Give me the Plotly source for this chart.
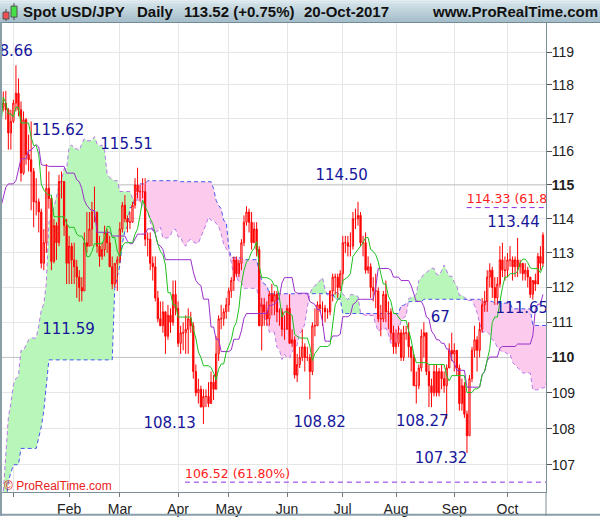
import numpy as np
import pandas as pd
import plotly.graph_objects as go

# ---------------- data ----------------
# warm-up sessions 2016-09-05 .. 2016-12-23 (highs / lows only, used for the Ichimoku)
warmup_high = [104.0, 103.9, 102.1, 102.3, 103.0, 102.5, 102.8, 102.7, 102.4, 102.3,
               102.0, 102.0, 102.8, 101.2, 101.1, 101.0, 100.8, 101.0, 101.4, 101.6,
               101.9, 102.9, 103.6, 103.9, 104.0, 104.0, 104.0, 104.6, 104.1, 104.4,
               104.2, 104.0, 103.9, 104.1, 104.0, 104.2, 104.5, 104.5, 105.1, 105.5, 105.0,
               105.0, 104.0, 103.4, 103.2, 104.5, 105.5, 105.9, 106.9, 106.9, 108.5,
               109.3, 109.5, 110.3, 111.0, 111.3, 111.4, 113.0, 113.5, 113.9, 113.3, 112.9, 114.8,
               114.8, 114.3, 114.5, 114.5, 114.3, 114.5, 115.4, 116.0, 115.6, 117.2,
               118.66, 118.3, 117.8, 118.2, 118.0, 117.8, 117.5]
warmup_low = [103.2, 101.5, 101.2, 101.2, 101.9, 101.8, 101.9, 101.9, 101.9, 101.7,
              101.7, 101.4, 100.8, 100.1, 100.5, 100.1, 100.1, 100.2, 100.5, 100.1,
              101.0, 101.6, 102.7, 103.2, 102.8, 102.8, 103.4, 103.7, 103.2, 103.6,
              103.6, 103.6, 103.0, 103.4, 103.6, 103.8, 104.0, 104.0, 104.3, 104.6, 104.6,
              104.0, 102.9, 102.6, 102.5, 103.4, 104.5, 101.2, 105.3, 106.0, 106.6,
              107.9, 108.6, 108.9, 110.2, 110.0, 110.6, 111.2, 112.6, 112.7, 111.4, 111.6, 112.2,
              113.6, 113.5, 112.9, 113.8, 113.4, 113.6, 114.0, 114.4, 114.8, 114.6,
              117.1, 117.4, 116.6, 117.1, 117.1, 117.3, 117.1]

# displayed sessions 2016-12-26 .. 2017-10-20
open_ = [117.25, 117.35, 117.45, 117.25, 116.55,
         116.90, 117.45, 117.75, 117.25, 115.35, 116.95, 115.90, 115.75, 115.40, 114.50, 114.50,
         114.20, 112.70, 113.30, 114.90, 114.60, 112.75, 113.80, 113.30, 115.10, 115.10, 113.80,
         112.70, 113.20, 112.80, 112.60, 112.30, 112.00, 111.90, 113.30, 113.20, 113.70, 114.20,
         114.20, 113.20, 112.90, 113.10, 113.60, 113.30, 112.60, 112.10, 112.70,
         112.80, 113.70, 114.40, 114.00, 113.90, 113.90, 114.40, 115.00, 114.80, 114.80, 114.80,
         113.40, 113.40, 112.70, 112.60, 111.70, 111.10, 110.90, 111.30, 110.60, 111.20, 111.00, 111.80,
         111.40, 110.40, 110.70, 110.70, 110.80, 111.10, 110.90, 109.60, 109.00, 109.10,
         108.60, 108.90, 108.90, 108.70, 109.30, 109.10, 110.10, 111.10, 111.10, 111.30,
         111.50, 111.90, 112.20, 112.80, 112.40, 112.70, 113.30, 113.90, 114.20, 113.90, 113.30,
         113.70, 113.10, 110.90, 111.50, 111.30, 111.10, 111.80, 111.60, 111.80, 111.30, 111.30, 110.80,
         110.80, 111.40, 110.40, 110.50, 109.50, 109.80, 110.00, 110.30, 110.00, 110.00, 109.60,
         110.90, 110.90, 111.50, 111.40, 111.40, 111.30, 111.30, 111.90, 112.30, 112.30, 112.00,
         112.40, 113.30, 113.30, 113.20, 113.20, 114.00, 114.00, 114.10, 113.30, 113.30, 112.50,
         112.60, 112.00, 111.90, 111.90, 111.10, 111.10, 111.80, 111.30, 111.30, 110.70,
         110.30, 110.40, 110.70, 110.00, 110.70, 110.70, 110.30, 110.00, 109.20, 109.20, 109.70,
         110.60, 110.70, 109.60, 109.20, 109.00, 109.60, 109.00, 109.60, 109.40, 109.20, 109.70, 110.20,
         110.10, 110.20, 109.70, 108.70, 109.20, 108.40, 107.80, 109.40, 110.20, 110.50, 110.20,
         110.80, 111.50, 111.60, 112.30, 112.50, 112.00, 111.70, 112.10, 112.80, 112.50,
         112.50, 112.80, 112.80, 112.60, 112.80, 112.60, 112.70, 112.40, 112.50, 112.30,
         111.80, 112.20, 112.10, 112.90, 112.70]
high = [117.40, 117.80, 117.82, 117.30, 117.25,
        117.55, 118.60, 118.20, 117.50, 117.20, 117.00, 116.50, 116.90, 115.50, 115.20, 114.60,
        114.30, 113.70, 115.62, 115.40, 114.70, 114.00, 113.90, 115.30, 115.40, 115.10, 114.00,
        113.50, 113.30, 113.30, 112.80, 112.50, 112.30, 113.60, 114.20, 114.20, 114.50, 114.95,
        114.20, 113.50, 113.30, 113.80, 113.70, 113.50, 112.90, 112.70, 112.90,
        113.90, 114.50, 114.70, 114.10, 114.20, 114.50, 115.20, 115.51, 115.00, 115.20, 115.20,
        113.60, 113.60, 112.90, 112.90, 111.90, 111.60, 111.60, 111.30, 111.50, 111.40, 112.20, 112.20,
        111.60, 110.90, 111.00, 111.20, 111.40, 111.30, 111.00, 109.80, 109.40, 109.20,
        109.10, 109.10, 109.30, 109.60, 109.50, 110.60, 111.20, 111.50, 111.40, 111.70,
        112.00, 112.30, 112.90, 112.90, 112.80, 113.40, 114.10, 114.37, 114.30, 114.20, 113.90,
        113.90, 113.20, 111.70, 111.70, 111.60, 111.90, 112.10, 111.90, 111.90, 111.40, 111.40, 111.20,
        111.50, 111.80, 110.80, 110.60, 110.10, 110.30, 110.80, 110.40, 110.30, 110.10, 111.00,
        111.40, 111.60, 111.80, 111.60, 111.50, 111.40, 111.90, 112.40, 112.40, 112.40, 112.50,
        113.50, 113.50, 113.50, 113.60, 114.20, 114.30, 114.50, 114.20, 113.50, 113.60, 112.90,
        112.70, 112.30, 112.40, 112.00, 111.50, 111.90, 112.20, 111.60, 111.40, 110.90,
        110.80, 110.90, 110.80, 110.90, 110.90, 111.00, 110.30, 110.10, 109.60, 109.80, 110.80,
        111.00, 110.70, 109.80, 109.40, 109.80, 109.80, 109.70, 109.80, 109.60, 109.80, 110.40, 110.70,
        110.40, 110.20, 109.80, 109.40, 109.30, 108.50, 109.50, 110.30, 110.90, 110.60, 111.00,
        111.70, 111.90, 112.50, 112.70, 112.60, 112.30, 112.30, 113.20, 113.30, 112.90,
        113.00, 113.20, 112.90, 112.90, 113.44, 112.80, 112.70, 112.70, 112.60, 112.30,
        112.20, 112.40, 113.00, 113.20, 113.60]
low = [116.95, 117.20, 116.95, 116.05, 116.05,
       116.85, 117.20, 117.05, 115.10, 115.30, 115.60, 115.40, 114.25, 113.75, 114.10, 113.60,
       112.55, 112.50, 113.00, 114.30, 112.50, 112.70, 112.80, 113.20, 114.60, 113.50, 112.10,
       112.10, 112.10, 112.10, 111.70, 111.59, 111.60, 111.90, 113.00, 113.20, 113.20, 113.90,
       113.00, 112.60, 112.80, 112.90, 113.00, 112.60, 111.95, 112.00, 111.90,
       112.70, 113.60, 113.90, 113.60, 113.70, 113.90, 114.30, 114.60, 114.50, 114.60, 113.20,
       112.90, 112.50, 112.20, 111.60, 111.00, 110.90, 110.70, 110.10, 110.50, 110.70, 110.90, 111.20,
       110.30, 110.10, 110.20, 110.10, 110.10, 110.70, 109.40, 108.90, 108.70, 108.60,
       108.13, 108.60, 108.60, 108.70, 108.80, 109.10, 109.90, 110.80, 110.90, 111.10,
       111.30, 111.70, 111.90, 112.30, 112.30, 112.50, 113.20, 113.80, 113.60, 113.10, 113.30,
       112.90, 110.90, 110.20, 110.90, 110.90, 110.90, 111.20, 111.20, 111.00, 110.90, 110.60, 110.50,
       110.80, 110.40, 110.30, 109.40, 109.30, 109.70, 109.90, 109.60, 109.90, 108.82, 109.50,
       110.60, 110.90, 111.30, 110.90, 111.00, 111.10, 111.20, 111.60, 111.80, 111.70, 111.90,
       112.10, 113.00, 112.90, 112.90, 113.10, 113.70, 113.80, 113.20, 112.90, 112.40, 112.40,
       111.70, 111.60, 111.40, 111.00, 110.60, 111.00, 111.00, 110.80, 110.50, 110.10,
       110.10, 110.30, 109.90, 109.90, 110.50, 110.00, 109.60, 109.20, 108.70, 109.10, 109.60,
       110.00, 109.50, 108.60, 108.60, 108.90, 108.90, 108.90, 109.10, 109.00, 108.27, 109.70, 109.90,
       109.60, 109.50, 108.50, 108.50, 108.30, 107.32, 107.80, 109.30, 110.00, 109.60, 110.00,
       110.70, 111.30, 111.30, 112.00, 111.70, 111.50, 111.50, 112.00, 112.30, 112.20,
       112.30, 112.60, 112.20, 112.30, 112.30, 112.40, 112.20, 112.20, 112.00, 111.70,
       111.65, 111.90, 112.10, 112.50, 112.60]
close = [117.35, 117.45, 117.25, 116.55, 116.90,
         117.45, 117.75, 117.25, 115.35, 116.95, 115.90, 115.75, 115.40, 114.50, 114.50, 114.20,
         112.70, 113.30, 114.90, 114.60, 112.75, 113.80, 113.30, 115.10, 115.10, 113.80, 112.70,
         113.20, 112.80, 112.60, 112.30, 112.00, 111.90, 113.30, 113.20, 113.70, 114.20, 114.20,
         113.20, 112.90, 113.10, 113.60, 113.30, 112.60, 112.10, 112.70, 112.80,
         113.70, 114.40, 114.00, 113.90, 113.90, 114.40, 115.00, 114.80, 114.80, 114.80, 113.40,
         113.40, 112.70, 112.60, 111.70, 111.10, 110.90, 111.30, 110.60, 111.20, 111.00, 111.80, 111.40,
         110.40, 110.70, 110.70, 110.80, 111.10, 110.90, 109.60, 109.00, 109.10, 108.60,
         108.90, 108.90, 108.70, 109.30, 109.10, 110.10, 111.10, 111.10, 111.30, 111.50,
         111.90, 112.20, 112.80, 112.40, 112.70, 113.30, 113.90, 114.20, 113.90, 113.30, 113.70,
         113.10, 110.90, 111.50, 111.30, 111.10, 111.80, 111.60, 111.80, 111.30, 111.30, 110.80, 110.80,
         111.40, 110.40, 110.50, 109.50, 109.80, 110.00, 110.30, 110.00, 110.00, 109.60, 110.90,
         110.90, 111.50, 111.40, 111.40, 111.30, 111.30, 111.90, 112.30, 112.30, 112.00, 112.40,
         113.30, 113.30, 113.20, 113.20, 114.00, 114.00, 114.10, 113.30, 113.30, 112.50, 112.60,
         112.00, 111.90, 111.90, 111.10, 111.10, 111.80, 111.30, 111.30, 110.70, 110.30,
         110.40, 110.70, 110.00, 110.70, 110.70, 110.30, 110.00, 109.20, 109.20, 109.70, 110.60,
         110.70, 109.60, 109.20, 109.00, 109.60, 109.00, 109.60, 109.40, 109.20, 109.70, 110.20, 110.10,
         110.20, 109.70, 108.70, 109.20, 108.40, 107.80, 109.40, 110.20, 110.50, 110.20, 110.80,
         111.50, 111.60, 112.30, 112.50, 112.00, 111.70, 112.10, 112.80, 112.50, 112.50,
         112.80, 112.80, 112.60, 112.80, 112.60, 112.70, 112.40, 112.50, 112.30, 111.80,
         112.20, 112.10, 112.90, 112.70, 113.52]

y_ticks = [107, 108, 109, 110, 111, 112, 113, 114, 115, 116, 117, 118, 119]
month_names = ["", "Feb", "Mar", "Apr", "May", "Jun", "Jul", "Aug", "Sep", "Oct"]

# chart labels: (text, bar offset from 2017-01-02, price, side)
blue_labels = [("118.66", 7.7, 119.0, "middle left"),
               ("115.62", 7.3, 116.61, "middle right"),
               ("115.51", 34.3, 116.17, "middle right"),
               ("114.50", 119.2, 115.27, "middle right"),
               ("113.44", 187.0, 113.86, "middle right"),
               ("111.59", 11.4, 110.78, "middle right"),
               ("67", 164.7, 111.12, "middle right"),
               ("111.65", 190.3, 111.38, "middle right"),
               ("108.13", 51.3, 108.13, "middle right"),
               ("108.82", 110.5, 108.15, "middle right"),
               ("108.27", 151.0, 108.17, "middle right"),
               ("107.32", 158.4, 107.14, "middle right")]
fib_levels = [114.33, 106.52]
fib_labels = ["114.33 (61.80%)", "106.52 (61.80%)"]
fib_start = [178.9, 67.7]
fib_label_y = [114.57, 106.73]

# ---------------- calendar / indicators ----------------
sessions = pd.bdate_range("2016-09-05", "2017-10-20")
assert len(sessions) == len(warmup_high) + len(close)
n_warm = len(warmup_high)
H_all = np.array(warmup_high + high, dtype=float)
L_all = np.array(warmup_low + low, dtype=float)
N = len(H_all)
origin = int(np.where(sessions == pd.Timestamp("2017-01-02"))[0][0])
x_all = np.arange(N) - origin


def mid(period):
    out = np.full(N, np.nan)
    for t in range(period - 1, N):
        out[t] = (H_all[t - period + 1:t + 1].max() + L_all[t - period + 1:t + 1].min()) / 2
    return out


tenkan = mid(9)
kijun = mid(26)
spanb_raw = mid(52)
SHIFT = 26
span_a = np.full(N + SHIFT, np.nan)
span_b = np.full(N + SHIFT, np.nan)
span_a[SHIFT:] = (tenkan + kijun) / 2
span_b[SHIFT:] = spanb_raw
x_span = np.arange(N + SHIFT) - origin

XMIN, XMAX = -4.5, 210.2
YMIN, YMAX = 106.25, 119.9

fig = go.Figure()

# darker grid lines at 110 / 115 (primary layer, under everything)
for lvl in (110, 115):
    fig.add_trace(go.Scatter(x=[XMIN, XMAX], y=[lvl, lvl], mode="lines",
                             line=dict(color="#c4c4c4", width=1), hoverinfo="skip"))

# cloud polygons
sel = (x_span >= XMIN - 3) & (x_span <= XMAX + 3) & ~np.isnan(span_a) & ~np.isnan(span_b)
xs, aa, bb = x_span[sel].astype(float), span_a[sel], span_b[sel]
polys = []
cx, ca, cb, cs = [xs[0]], [aa[0]], [bb[0]], (1 if aa[0] >= bb[0] else -1)
for i in range(1, len(xs)):
    s = 1 if aa[i] >= bb[i] else -1
    if s != cs:
        d0, d1 = aa[i - 1] - bb[i - 1], aa[i] - bb[i]
        t = d0 / (d0 - d1)
        xi = xs[i - 1] + t * (xs[i] - xs[i - 1])
        yi = aa[i - 1] + t * (aa[i] - aa[i - 1])
        cx.append(xi); ca.append(yi); cb.append(yi)
        polys.append((cs, cx, ca, cb))
        cx, ca, cb, cs = [xi, xs[i]], [yi, aa[i]], [yi, bb[i]], s
    else:
        cx.append(xs[i]); ca.append(aa[i]); cb.append(bb[i])
polys.append((cs, cx, ca, cb))
for s, px_, pa, pb in polys:
    fig.add_trace(go.Scatter(x=list(px_) + list(px_)[::-1], y=list(pa) + list(pb)[::-1],
                             fill="toself", mode="none",
                             fillcolor="#b9f6b9" if s > 0 else "#fbcaec", hoverinfo="skip"))

fig.add_trace(go.Scatter(x=xs, y=aa, mode="lines",
                         line=dict(color="#b87ae8", width=1, dash="4px,3px"), hoverinfo="skip"))
fig.add_trace(go.Scatter(x=xs, y=bb, mode="lines",
                         line=dict(color="#4757ee", width=1, dash="4px,3px"), hoverinfo="skip"))

# candles (overlay layer)
xd = x_all[n_warm:]
fig.add_trace(go.Candlestick(x=xd, open=open_, high=high, low=low, close=close,
                             increasing=dict(line=dict(color="#ff0000", width=1), fillcolor="#ffffff"),
                             decreasing=dict(line=dict(color="#ff0000", width=1), fillcolor="#ff0000"),
                             whiskerwidth=0, yaxis="y2", hoverinfo="skip"))

start = n_warm - 2
fig.add_trace(go.Scatter(x=x_all[start:], y=kijun[start:], mode="lines",
                         line=dict(color="#9b30cc", width=1), yaxis="y2", hoverinfo="skip"))
fig.add_trace(go.Scatter(x=x_all[start:], y=tenkan[start:], mode="lines",
                         line=dict(color="#1fc11f", width=1), yaxis="y2", hoverinfo="skip"))

# fibonacci lines + labels
for lvl, x0 in zip(fib_levels, fib_start):
    fig.add_trace(go.Scatter(x=[x0, XMAX], y=[lvl, lvl], mode="lines",
                             line=dict(color="#8e2ee0", width=1, dash="5px,4px"),
                             yaxis="y2", hoverinfo="skip"))
fig.add_trace(go.Scatter(x=fib_start, y=fib_label_y, mode="text", text=fib_labels,
                         textposition="middle right", cliponaxis=True,
                         textfont=dict(family="DejaVu Sans", size=12.5, color="#ff2020"),
                         yaxis="y2", hoverinfo="skip"))
fig.add_trace(go.Scatter(x=[b[1] for b in blue_labels], y=[b[2] for b in blue_labels],
                         mode="text", text=[b[0] for b in blue_labels],
                         textposition=[b[3] for b in blue_labels], cliponaxis=True,
                         textfont=dict(family="DejaVu Sans", size=15, color="#16169a"),
                         yaxis="y2", hoverinfo="skip"))

# ---------------- layout ----------------
W, Hh = 600, 519
ML, MR, MT, MB = 2, 54, 23, 24
PW, PH = W - ML - MR, Hh - MT - MB


def fx(px):
    return (px - ML) / PW


def fy(py):
    return (Hh - MB - py) / PH


disp = sessions[n_warm:]
month_pos, seen = [], set()
for i, d in enumerate(disp):
    key = (d.year, d.month)
    if d.year == 2017 and key not in seen:
        seen.add(key)
        month_pos.append(x_all[n_warm + i])

shapes = []
c0, c1 = np.array([0xd8, 0xe6, 0xec]), np.array([0xa6, 0xbf, 0xcb])
for k in range(11):
    c = (c0 + (c1 - c0) * k / 10).astype(int)
    shapes.append(dict(type="rect", xref="paper", yref="paper", x0=fx(0), x1=fx(600),
                       y0=fy(2 * k + 2), y1=fy(2 * k), line=dict(width=0),
                       fillcolor="rgb(%d,%d,%d)" % tuple(c), layer="above"))
shapes.append(dict(type="line", xref="paper", yref="paper", x0=fx(0), x1=fx(600),
                   y0=fy(22.5), y1=fy(22.5), line=dict(color="#728a96", width=1)))
shapes.append(dict(type="line", xref="paper", yref="paper", x0=fx(1), x1=fx(1),
                   y0=fy(22), y1=fy(519), line=dict(color="#8a9ea8", width=2)))
shapes.append(dict(type="line", xref="paper", yref="paper", x0=fx(0), x1=fx(600),
                   y0=fy(518), y1=fy(518), line=dict(color="#8a9ea8", width=2)))
shapes.append(dict(type="line", xref="paper", yref="paper", x0=fx(546), x1=fx(546),
                   y0=fy(495), y1=fy(519), line=dict(color="#7b8f99", width=1)))
# header candle icon
shapes.append(dict(type="line", xref="paper", yref="paper", x0=fx(6), x1=fx(6),
                   y0=fy(9), y1=fy(21), line=dict(color="#444", width=1)))
shapes.append(dict(type="rect", xref="paper", yref="paper", x0=fx(3), x1=fx(9),
                   y0=fy(19), y1=fy(12), line=dict(color="#555", width=1), fillcolor="#f05050"))
shapes.append(dict(type="line", xref="paper", yref="paper", x0=fx(14), x1=fx(14),
                   y0=fy(3), y1=fy(20), line=dict(color="#444", width=1)))
shapes.append(dict(type="rect", xref="paper", yref="paper", x0=fx(11), x1=fx(17),
                   y0=fy(17), y1=fy(6), line=dict(color="#555", width=1), fillcolor="#44e044"))

hdr_font = dict(family="Liberation Sans, Arial", size=15, color="#111")
annotations = []
for txt, px in [("<b>Spot USD/JPY</b>", 21), ("<b>Daily</b>", 135),
                ("<b>113.52 (+0.75%)</b>", 182), ("<b>20-Oct-2017</b>", 302)]:
    annotations.append(dict(text=txt, xref="paper", yref="paper", x=fx(px), y=fy(11.5),
                            xanchor="left", yanchor="middle", showarrow=False, font=hdr_font))
annotations.append(dict(text="<b>www.ProRealTime.com</b>", xref="paper", yref="paper",
                        x=fx(600), y=fy(11.5), xanchor="right", yanchor="middle",
                        showarrow=False, font=hdr_font))
annotations.append(dict(text="© ProRealTime.com", xref="paper", yref="paper", x=fx(2),
                        y=fy(489), xanchor="left", yanchor="middle", showarrow=False,
                        font=dict(family="Liberation Sans, Arial", size=12, color="#e82020")))

yr = [np.log10(YMIN), np.log10(YMAX)]
fig.update_layout(
    width=W, height=Hh, margin=dict(l=ML, r=MR, t=MT, b=MB, pad=0),
    paper_bgcolor="white", plot_bgcolor="white", showlegend=False,
    font=dict(family="Liberation Sans, Arial", size=14, color="#222"),
    shapes=shapes, annotations=annotations,
    xaxis=dict(range=[XMIN, XMAX], tickvals=month_pos, ticktext=month_names,
               showgrid=True, gridcolor="#e6e6e6", gridwidth=1, zeroline=False,
               ticks="outside", ticklen=4, tickcolor="#777", showline=True,
               linecolor="#7b8f99", linewidth=1, rangeslider=dict(visible=False),
               tickfont=dict(size=14, color="#222")),
    yaxis=dict(type="log", range=yr, side="right", tickvals=y_ticks,
               ticktext=[("<b>%d</b>" % v) if v in (110, 115) else str(v) for v in y_ticks],
               showgrid=True, gridcolor="#e6e6e6", zeroline=False, ticks="outside",
               ticklen=5, tickcolor="#555", showline=True, linecolor="#7b8f99",
               linewidth=1, tickfont=dict(size=14, color="#222"), ticklabelstandoff=-3),
    yaxis2=dict(type="log", range=yr, overlaying="y", side="right", visible=False),
)

fig.write_html("out.html", config={"displayModeBar": False},
               post_script="document.body.style.margin='0';document.body.style.overflow='hidden';")
